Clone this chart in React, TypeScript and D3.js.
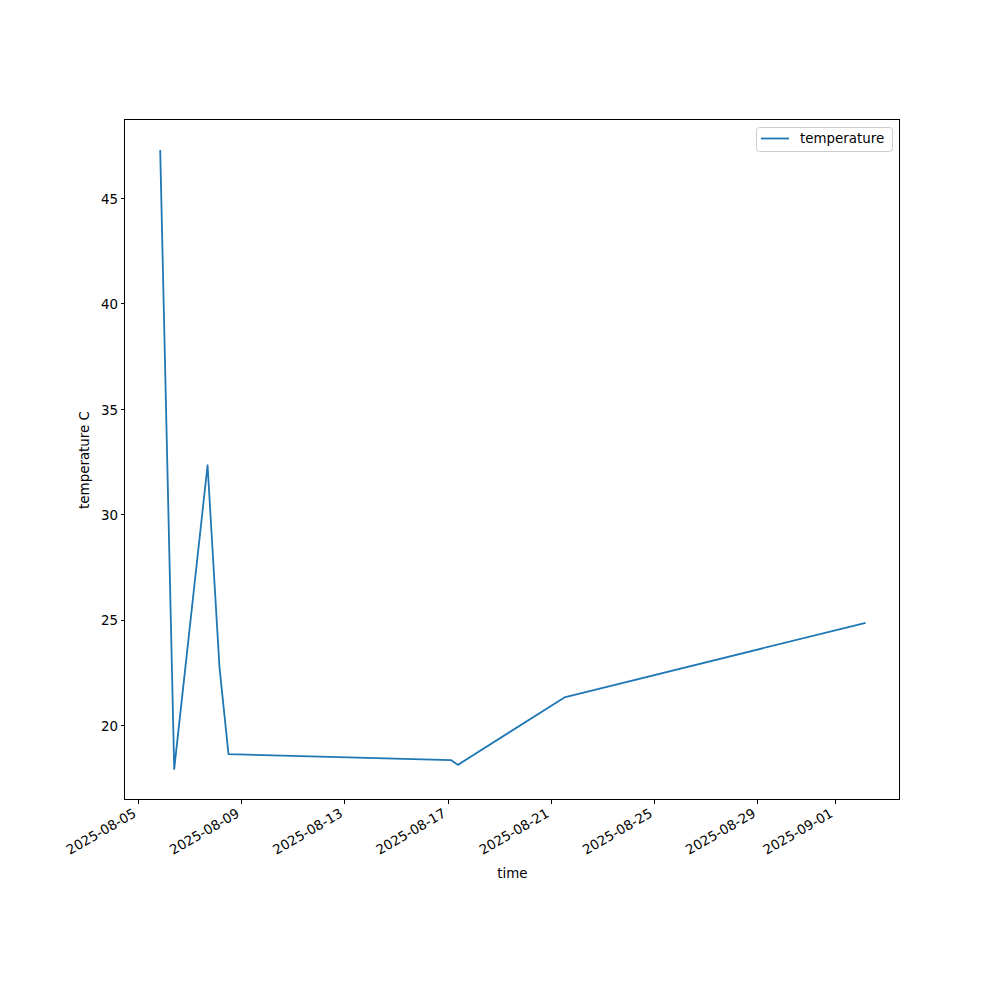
import React from "react";
import * as d3 from "d3";

const times: string[] = [
  "2025-08-05T19:48:00Z",
  "2025-08-06T08:48:00Z",
  "2025-08-07T15:50:00Z",
  "2025-08-08T02:53:00Z",
  "2025-08-08T11:17:00Z",
  "2025-08-17T02:10:00Z",
  "2025-08-17T08:38:00Z",
  "2025-08-21T11:46:00Z",
  "2025-09-02T03:07:00Z",
];
const temperatures: number[] = [47.28, 17.96, 32.37, 22.81, 18.67, 18.39, 18.16, 21.36, 24.89];

const xTickLabels: string[] = [
  "2025-08-05",
  "2025-08-09",
  "2025-08-13",
  "2025-08-17",
  "2025-08-21",
  "2025-08-25",
  "2025-08-29",
  "2025-09-01",
];
const yTicks: number[] = [20, 25, 30, 35, 40, 45];

const seriesName = "temperature";
const xLabel = "time";
const yLabel = "temperature C";

const W = 1000;
const H = 1000;
const L = 125;
const R = 900;
const T = 120;
const B = 800;
const FONT = "DejaVu Sans, sans-serif";
const FS = 13.4;
const COLOR = "#1f77b4";

export default function App() {
  const dates = times.map((t) => new Date(t));
  const data = dates.map((d, i) => ({ d, v: temperatures[i] }));

  const [xmin, xmax] = d3.extent(dates) as [Date, Date];
  const xspan = xmax.getTime() - xmin.getTime();
  const x = d3
    .scaleUtc()
    .domain([new Date(xmin.getTime() - 0.05 * xspan), new Date(xmax.getTime() + 0.05 * xspan)])
    .range([L, R]);

  const [vmin, vmax] = d3.extent(temperatures) as [number, number];
  const vspan = vmax - vmin;
  const y = d3
    .scaleLinear()
    .domain([vmin - 0.05 * vspan, vmax + 0.05 * vspan])
    .range([B, T]);

  const line = d3
    .line<{ d: Date; v: number }>()
    .x((p) => x(p.d))
    .y((p) => y(p.v));

  const xTicks = xTickLabels.map((s) => ({ s, d: new Date(s + "T00:00:00Z") }));
  const snap = (v: number) => Math.round(v) + 0.5;

  return (
    <svg
      width={W}
      height={H}
      style={{ display: "block", position: "absolute", left: 0, top: 0 }}
      fontFamily={FONT}
    >
      <rect x={0} y={0} width={W} height={H} fill="white" />
      <path d={line(data) || ""} fill="none" stroke={COLOR} strokeWidth={1.8} strokeLinejoin="round" strokeLinecap="square" />
      <rect x={L - 0.5} y={T - 0.5} width={R - L} height={B - T} fill="none" stroke="black" strokeWidth={1} />
      {xTicks.map((t) => {
        const px = x(t.d);
        return (
          <g key={t.s}>
            <line x1={snap(px) - 1} x2={snap(px) - 1} y1={B} y2={B + 4} stroke="black" strokeWidth={1} />
            <text
              transform={`translate(${px - 1.7},${B + 16}) rotate(-30)`}
              textAnchor="end"
              fontSize={FS}
              fill="black"
            >
              {t.s}
            </text>
          </g>
        );
      })}
      {yTicks.map((v) => {
        const py = y(v);
        return (
          <g key={v}>
            <line x1={L - 4} x2={L} y1={snap(py) - 1} y2={snap(py) - 1} stroke="black" strokeWidth={1} />
            <text x={L - 7} y={py} dy="0.35em" textAnchor="end" fontSize={FS} fill="black">
              {v}
            </text>
          </g>
        );
      })}
      <text x={(L + R) / 2} y={878} textAnchor="middle" fontSize={FS} fill="black">
        {xLabel}
      </text>
      <text transform={`translate(89,${(T + B) / 2}) rotate(-90)`} textAnchor="middle" fontSize={FS} fill="black">
        {yLabel}
      </text>
      <g>
        <rect x={756.5} y={127.5} width={136} height={24} rx={3} fill="white" fillOpacity={0.8} stroke="#cccccc" strokeWidth={1} />
        <line x1={761} x2={789} y1={138.5} y2={138.5} stroke={COLOR} strokeWidth={1.8} />
        <text x={800} y={138.5} dy="0.35em" fontSize={FS} fill="black">
          {seriesName}
        </text>
      </g>
    </svg>
  );
}
